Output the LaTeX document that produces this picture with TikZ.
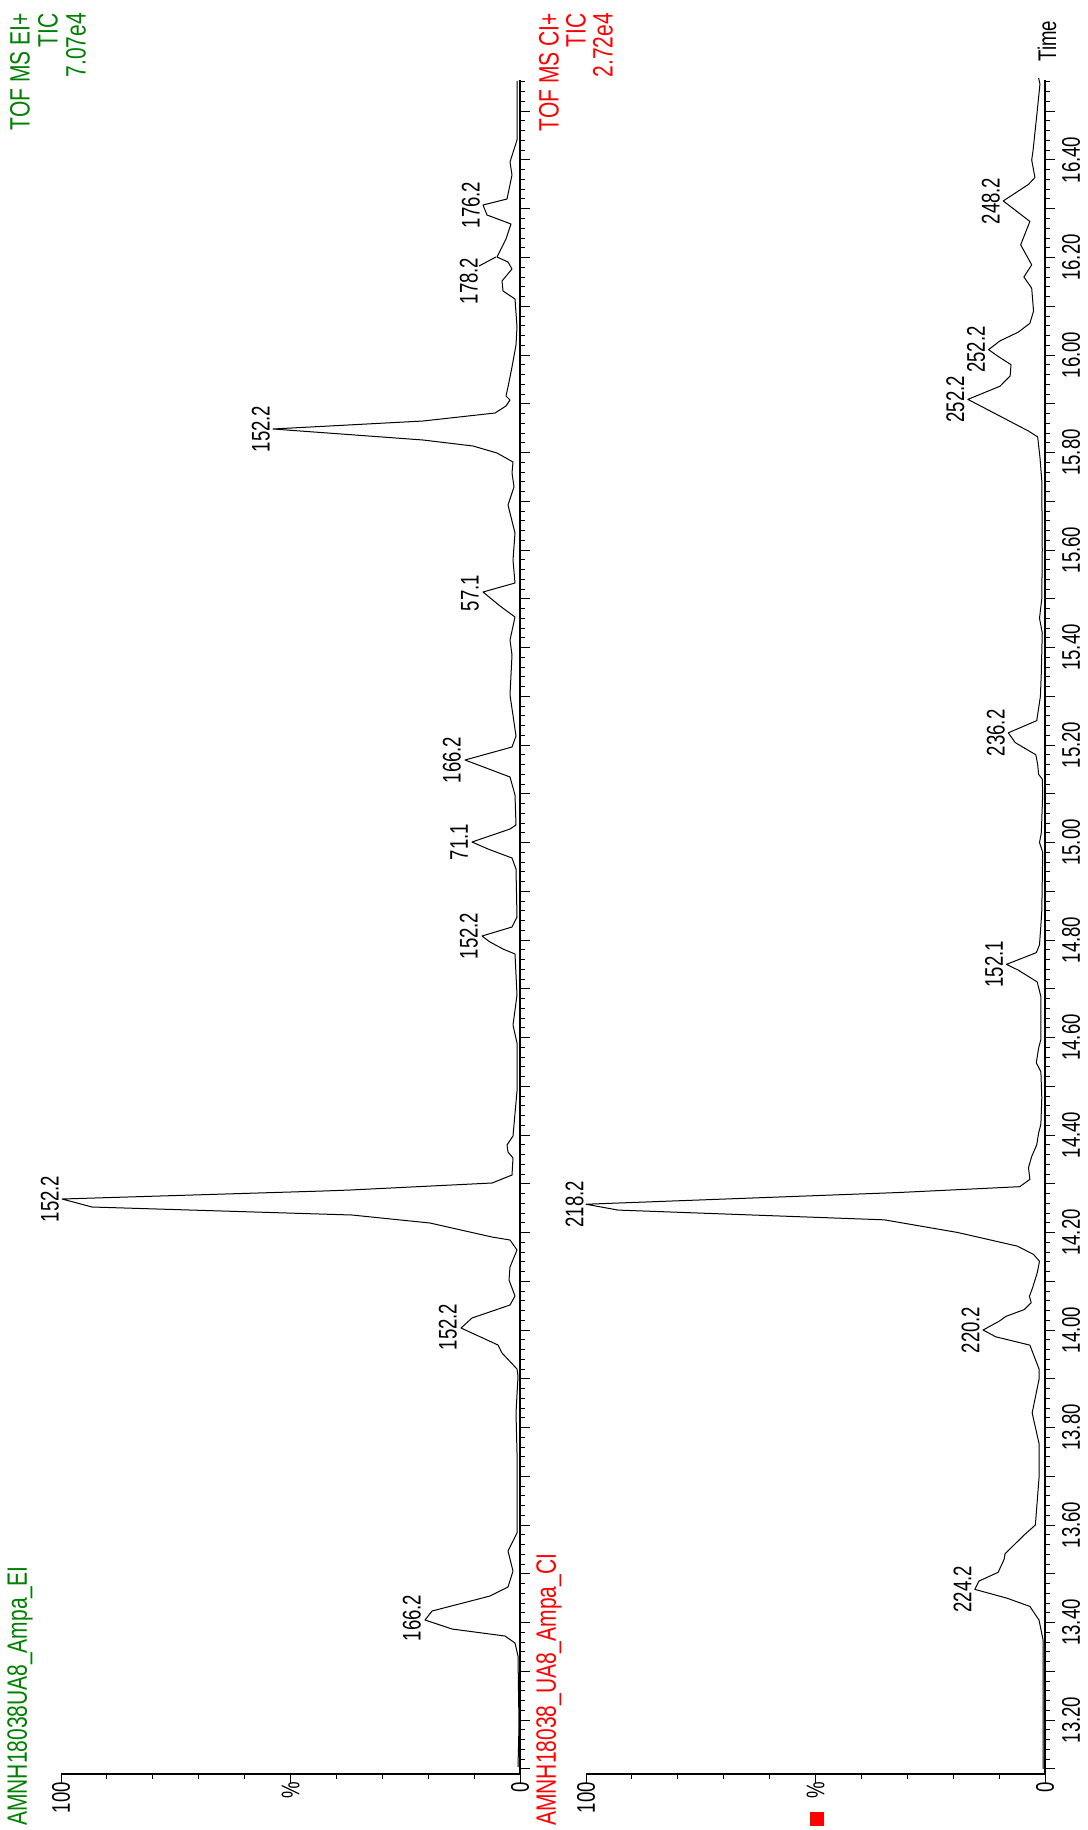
\documentclass[tikz,border=0pt]{standalone}
\usepackage{fontspec}
\setmainfont{Liberation Sans}
\newfontfamily\lblfont[FakeStretch=0.73]{Liberation Sans}
\newfontfamily\hdrfont[FakeStretch=0.75]{Liberation Sans}
\definecolor{eigreen}{RGB}{0,128,0}
\definecolor{cired}{RGB}{255,0,0}
\begin{document}
\begin{tikzpicture}[x=1pt,y=-1pt,
  trace/.style={line width=1pt, line join=round},
  axisline/.style={line width=1.3pt},
  tk/.style={line width=1pt},
  txt/.style={font=\lblfont\fontsize{25.5}{28}\selectfont, inner sep=0pt, rotate=90},
  htxt/.style={font=\hdrfont\fontsize{28}{31}\selectfont, inner sep=0pt, rotate=90},
  pk/.style={txt, anchor=south},
  hdr/.style={htxt, anchor=east},
  axl/.style={txt, anchor=east}]
\useasboundingbox (0,0) rectangle (1087,1830);
\fill[white] (0,0) rectangle (1087,1830);

% ---------- headers ----------
\node[hdr, text=eigreen] (g1) at (20,13) {TOF MS EI+};
\node[hdr, text=eigreen] (g2) at (48,13) {TIC};
\node[hdr, text=eigreen] (g3) at (76,13) {7.07e4};
\node[hdr, text=cired] (r1) at (549,13) {TOF MS CI+};
\node[hdr, text=cired] (r2) at (576,13) {TIC};
\node[hdr, text=cired] (r3) at (603,13) {2.72e4};
\node[htxt, anchor=west, text=eigreen] (gs) at (20,1826) {AMNH18038UA8\_Ampa\_EI};
\node[htxt, anchor=west, text=cired] (rs) at (549,1826) {AMNH18038\_UA8\_Ampa\_CI};
\node[txt] (time) at (1047,41) {Time};

% ---------- axes ----------
\draw[axisline] (61,1774) -- (520,1774) -- (520,80);
\draw[axisline] (586,1774) -- (1045,1774) -- (1045,80);
\foreach \i in {0,...,10}{
  \pgfmathsetmacro\len{(\i==0||\i==5||\i==10)?9:5}
  \draw[tk] ({61+45.9*\i},1774) -- ++(0,\len);
  \draw[tk] ({586+45.9*\i},1774) -- ++(0,\len);
}
\foreach \k in {0,...,173}{
  \pgfmathsetmacro\yy{1768.75-9.75*\k}
  \pgfmathsetmacro\len{mod(\k,5)==0?10:5}
  \draw[tk] (520,\yy) -- ++(\len,0);
  \draw[tk] (1045,\yy) -- ++(\len,0);
}
\node[axl] (a100) at (61,1782) {100};
\node[axl] (apc) at (290.5,1782) {\%};
\node[axl] (a0) at (520,1782) {0};
\node[axl] (b100) at (586,1782) {100};
\node[axl] (bpc) at (815.5,1782) {\%};
\node[axl] (b0) at (1045,1782) {0};
\fill[cired] (810,1812) rectangle (824,1826);

\foreach \j/\lab in {0/13.20,1/13.40,2/13.60,3/13.80,4/14.00,5/14.20,6/14.40,7/14.60,8/14.80,9/15.00,10/15.20,11/15.40,12/15.60,13/15.80,14/16.00,15/16.20,16/16.40}{
  \node[txt] (tl\j) at (1071,{1720-97.5*\j}) {\lab};
}

% ---------- EI trace ----------
\draw[trace] (517,81)--(517,113)--(517,140)--(510,162)--(512,175)--(507,199)--(483,205)--(487,215)--(511,224)--(506,239)--(497,257)--(508,262)--(512,269)--(502,281)--(503,291)--(515,299)--(517,327)--(516,345)--(512,367)--(508,387)--(506,396)--(510,400)--(506,406)--(495,413)--(423,421)--(273,429)--(423,440)--(473,446)--(497,453)--(513,462)--(512,473)--(514,487)--(508,505)--(515,533)--(513,560)--(515,583)--(483,592)--(500,606)--(515,617)--(510,640)--(512,655)--(510,695)--(516,736)--(512,747)--(465,760)--(510,777)--(515,795)--(516,825)--(510,829)--(472,842)--(488,849)--(512,858)--(516,869)--(517,917)--(512,927)--(482,936)--(490,942)--(503,949)--(515,954)--(517,995)--(513,1025)--(517,1043)--(517,1091)--(513,1136)--(507,1145)--(508,1152)--(513,1158)--(512,1175)--(492,1183)--(350,1190)--(323,1191)--(62,1199)--(92,1207)--(352,1215)--(430,1223)--(492,1237)--(510,1240)--(517,1250)--(510,1267)--(509,1280)--(515,1296)--(510,1305)--(472,1318)--(461,1328)--(498,1345)--(502,1353)--(517,1369)--(518,1376)--(516,1413)--(517,1453)--(517,1533)--(508,1551)--(513,1571)--(508,1587)--(490,1596)--(432,1611)--(425,1620)--(452,1629)--(505,1636)--(515,1643)--(518,1656)--(519,1725)--(518,1767);

\node[pk] (e1) at (480,205) {176.2};
\node[pk] (e2) at (478,281) {178.2};
\coordinate (e2p) at (496,257);
\draw[tk] (479,266) -- (e2p);
\node[pk] (e3) at (270,429) {152.2};
\node[pk] (e4) at (479,593) {57.1};
\node[pk] (e5) at (461,760) {166.2};
\node[pk] (e6) at (468,842) {71.1};
\node[pk] (e7) at (478,936) {152.2};
\node[pk] (e8) at (59,1199) {152.2};
\node[pk] (e9) at (457,1327) {152.2};
\node[pk] (e10) at (421,1618) {166.2};

% ---------- CI trace (I %, time) ----------
\begin{scope}[shift={(1045pt,-8155pt)}, x={(-4.59pt,0pt)}, y={(0pt,487.5pt)}]
\draw[trace] (1.4,16.568)--(1.1,16.556)--(1.7,16.50)--(2.6,16.42)--(2.9,16.40)--(2.2,16.364)--(3.6,16.35)--(9.1,16.316)--(3.3,16.274)--(5.3,16.226)--(2.9,16.185)--(4.6,16.16)--(2.9,16.137)--(2.5,16.09)--(3.3,16.065)--(5.8,16.047)--(9.8,16.029)--(12.3,16.011)--(10.5,15.999)--(7.4,15.98)--(7.6,15.957)--(9.8,15.936)--(16.8,15.909)--(3.6,15.844)--(1.6,15.832)--(1.1,15.79)--(0.7,15.742)--(0.6,15.60)--(0.7,15.50)--(1.2,15.46)--(0.6,15.43)--(0.8,15.35)--(1.0,15.30)--(1.8,15.25)--(8.0,15.225)--(6.5,15.205)--(2.0,15.18)--(1.6,15.16)--(1.4,15.14)--(0.6,15.13)--(0.5,15.10)--(0.8,15.02)--(1.2,15.00)--(0.5,14.98)--(0.7,14.86)--(0.9,14.83)--(1.2,14.79)--(1.9,14.774)--(8.4,14.75)--(5.8,14.738)--(1.7,14.714)--(0.9,14.684)--(0.9,14.596)--(1.4,14.578)--(1.9,14.548)--(0.9,14.53)--(0.7,14.476)--(0.9,14.422)--(1.4,14.404)--(1.8,14.38)--(2.9,14.356)--(3.6,14.333)--(3.3,14.309)--(5.5,14.294)--(32,14.282)--(100,14.258)--(93,14.246)--(35,14.226)--(19,14.20)--(6,14.172)--(2.5,14.155)--(1.2,14.141)--(1.7,14.117)--(2.7,14.087)--(3.4,14.069)--(3.0,14.056)--(4.5,14.042)--(8.5,14.028)--(10,14.018)--(13.5,14.00)--(10.7,13.986)--(3.3,13.969)--(1.3,13.92)--(1.3,13.899)--(2.8,13.83)--(1.3,13.767)--(1.3,13.697)--(2.1,13.60)--(4.6,13.579)--(8.7,13.541)--(8.9,13.53)--(10.2,13.503)--(14.4,13.485)--(15.3,13.468)--(8.3,13.45)--(3.3,13.433)--(1.3,13.405)--(0.4,13.363)--(0.4,13.10);
\node[pk] (c1) at (9.8,16.316) {248.2};
\node[pk] (c2) at (13.0,16.011) {252.2};
\node[pk] (c3) at (17.5,15.909) {252.2};
\node[pk] (c4) at (8.7,15.225) {236.2};
\node[pk] (c5) at (9.1,14.75) {152.1};
\node[pk] (c6) at (100.5,14.258) {218.2};
\node[pk] (c7) at (14.2,14.00) {220.2};
\node[pk] (c8) at (16.0,13.468) {224.2};
\end{scope}
\end{tikzpicture}
\end{document}
